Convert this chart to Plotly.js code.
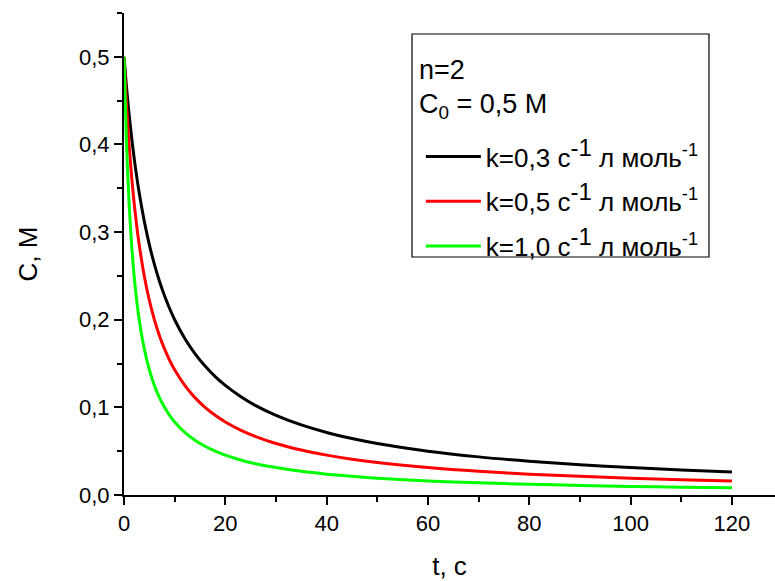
<!DOCTYPE html>
<html>
<head>
<meta charset="utf-8">
<script src="https://cdn.plot.ly/plotly-3.0.1.min.js"></script>
<style>html,body{margin:0;padding:0;background:#fff;}#chart{width:775px;height:581px;}</style>
</head>
<body>
<div id="chart"></div>
<script>
// time, s
const tValues = [0,0.5,1,1.5,2,2.5,3,4,5,6,7,8,9,10,12,14,16,18,20,23,26,30,35,40,45,50,60,70,80,90,100,110,120];
// concentration, M
const cK03 = [0.5,0.4651,0.4348,0.4082,0.3846,0.3636,0.3448,0.3125,0.2857,0.2632,0.2439,0.2273,0.2128,0.2,0.1786,0.1613,0.1471,0.1351,0.125,0.1124,0.102,0.0909,0.08,0.0714,0.0645,0.0588,0.05,0.0435,0.0385,0.0345,0.0313,0.0286,0.0263];
const cK05 = [0.5,0.4444,0.4,0.3636,0.3333,0.3077,0.2857,0.25,0.2222,0.2,0.1818,0.1667,0.1538,0.1429,0.125,0.1111,0.1,0.0909,0.0833,0.0741,0.0667,0.0588,0.0513,0.0455,0.0408,0.037,0.0313,0.027,0.0238,0.0213,0.0192,0.0175,0.0161];
const cK10 = [0.5,0.4,0.3333,0.2857,0.25,0.2222,0.2,0.1667,0.1429,0.125,0.1111,0.1,0.0909,0.0833,0.0714,0.0625,0.0556,0.05,0.0455,0.04,0.0357,0.0313,0.027,0.0238,0.0213,0.0192,0.0161,0.0139,0.0123,0.0109,0.0098,0.0089,0.0082];
const bigSup = '<sup><span style="font-size:24px">-1</span></sup>';
const seriesNames = [
  'k=0,3 c' + bigSup + ' л моль<sup>-1</sup>',
  'k=0,5 c' + bigSup + ' л моль<sup>-1</sup>',
  'k=1,0 c' + bigSup + ' л моль<sup>-1</sup>'
];
const legendHeader = ['n=2', 'C<sub>0</sub> = 0,5 M'];
const seriesColors = ['#000000','#ff0000','#00ff00'];
const seriesData = [cK03, cK05, cK10];
const xTickVals = [0,20,40,60,80,100,120];
const yTickVals = [0,0.1,0.2,0.3,0.4,0.5];

const traces = seriesData.map((c, i) => ({
  x: tValues, y: c, type: 'scatter', mode: 'lines',
  name: seriesNames[i], legendgroup: 'g' + i,
  line: {color: seriesColors[i], width: 3, shape: 'spline', smoothing: 0.8}
}));

const font = 'Liberation Sans, Arial, sans-serif';
const layout = {
  width: 775, height: 581,
  margin: {l: 124, r: 0, t: 13, b: 86},
  paper_bgcolor: '#fff', plot_bgcolor: '#fff',
  separators: ', ',
  font: {family: font, color: '#000', size: 22},
  showlegend: true,
  legend: {
    x: 0.456, y: 0.751, xanchor: 'left', yanchor: 'top',
    borderwidth: 0, bgcolor: 'rgba(0,0,0,0)',
    font: {family: font, size: 26, color: '#000'},
    tracegroupgap: 8, itemwidth: 55
  },
  annotations: [
    {text: legendHeader[0], xref: 'paper', yref: 'paper', x: 0.450, y: 0.8817, xanchor: 'left', yanchor: 'middle', showarrow: false, font: {family: font, size: 27, color: '#000'}},
    {text: legendHeader[1], xref: 'paper', yref: 'paper', x: 0.450, y: 0.807, xanchor: 'left', yanchor: 'middle', showarrow: false, font: {family: font, size: 27, color: '#000'}}
  ],
  shapes: [{
    type: 'rect', xref: 'paper', yref: 'paper',
    x0: 0.4424, x1: 0.8986, y0: 0.4938, y1: 0.9564,
    line: {color: '#000', width: 1.2}, fillcolor: 'rgba(0,0,0,0)', layer: 'above'
  }],
  xaxis: {
    range: [0, 128.5], showgrid: false, zeroline: false,
    showline: true, linecolor: '#000', linewidth: 2,
    ticks: 'outside', ticklen: 8, tickwidth: 2, tickcolor: '#000',
    tickvals: xTickVals, tickfont: {size: 22},
    minor: {dtick: 10, tick0: 0, ticks: 'outside', ticklen: 5, tickwidth: 2, tickcolor: '#000', showgrid: false},
    title: {text: 't, c', font: {size: 26}, standoff: 26},
    automargin: false
  },
  yaxis: {
    range: [0, 0.55], showgrid: false, zeroline: false,
    showline: true, linecolor: '#000', linewidth: 2,
    ticks: 'outside', ticklen: 8, tickwidth: 2, tickcolor: '#000',
    tickvals: yTickVals, tickformat: '.1f', tickfont: {size: 22},
    minor: {dtick: 0.05, tick0: 0, ticks: 'outside', ticklen: 5, tickwidth: 2, tickcolor: '#000', showgrid: false},
    title: {text: 'C, M', font: {size: 26}, standoff: 34},
    automargin: false
  }
};

Plotly.newPlot('chart', traces, layout, {displayModeBar: false, staticPlot: true});
</script>
</body>
</html>
